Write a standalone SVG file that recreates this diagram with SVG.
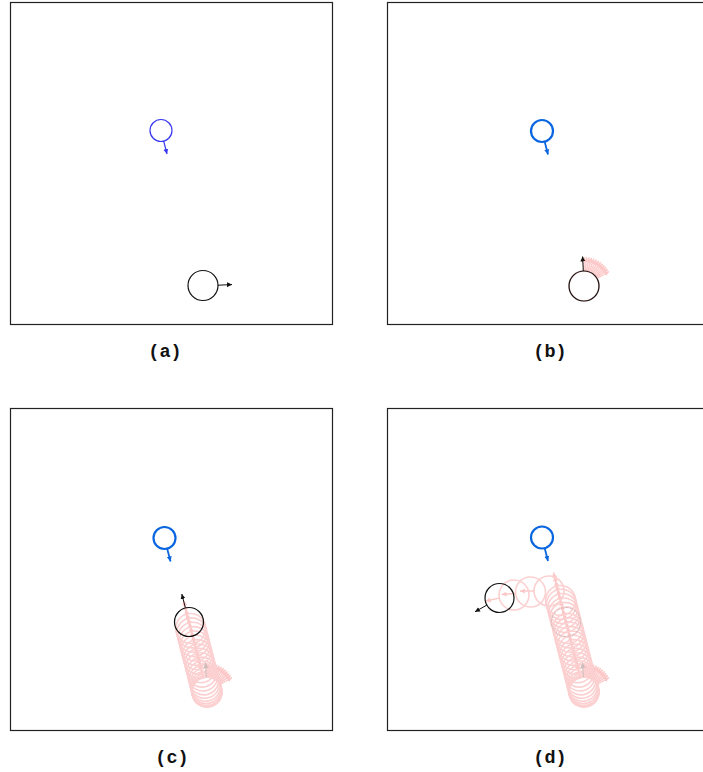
<svg xmlns="http://www.w3.org/2000/svg" xmlns:xlink="http://www.w3.org/1999/xlink" width="703" height="772" viewBox="0 0 703 772">
<style>
.frame{fill:none;stroke:#222;stroke-width:1.2}
.lbl{font-family:"Liberation Mono","Courier New",monospace;font-weight:bold;font-size:18.5px;fill:#111;text-anchor:middle}
.agent{fill:none;stroke:#111;stroke-width:1.2}
.aarr{stroke:#111;stroke-width:1;marker-end:url(#mk)}
.pc{fill:none;stroke:#fcd0d0;stroke-width:1.6}
.pa{stroke:#fcc8c8;stroke-width:1.4;marker-end:url(#mp)}
.ghost{fill:none;stroke:#cdbcbc;stroke-width:1;stroke-dasharray:3 1.5}
.garr{stroke:#cdbcbc;stroke-width:1;marker-end:url(#mg)}
.t1{fill:none;stroke:#3838f0;stroke-width:1.2}
.t1a{stroke:#3838f0;stroke-width:1.2;marker-end:url(#mb1)}
.t2{fill:none;stroke:#0a66e0;stroke-width:2.2}
.t2a{stroke:#0a66e0;stroke-width:1.8;marker-end:url(#mb2)}
</style>
<defs>
<marker id="mk" markerWidth="6" markerHeight="6" refX="5" refY="3" orient="auto" markerUnits="userSpaceOnUse"><path d="M0,0.5 L5,3 L0,5.5 Z" fill="#111"/></marker>
<marker id="mp" markerWidth="6" markerHeight="6" refX="5" refY="3" orient="auto" markerUnits="userSpaceOnUse"><path d="M0,0.5 L5,3 L0,5.5 Z" fill="#fcc8c8"/></marker>
<marker id="mg" markerWidth="6" markerHeight="6" refX="5" refY="3" orient="auto" markerUnits="userSpaceOnUse"><path d="M0,0.5 L5,3 L0,5.5 Z" fill="#cdbcbc"/></marker>
<marker id="mb1" markerWidth="6" markerHeight="6" refX="5" refY="3" orient="auto" markerUnits="userSpaceOnUse"><path d="M0,0.5 L5,3 L0,5.5 Z" fill="#3838f0"/></marker>
<marker id="mb2" markerWidth="6" markerHeight="6" refX="5" refY="3" orient="auto" markerUnits="userSpaceOnUse"><path d="M0,0.5 L5,3 L0,5.5 Z" fill="#0a66e0"/></marker>
<g id="parr"><line class="pa" x1="15" y1="0" x2="29" y2="0"/></g>
<g id="pstate"><circle class="pc" cx="0" cy="0" r="15"/><line class="pa" x1="15" y1="0" x2="29" y2="0"/></g>
<g id="fan">
<use xlink:href="#pstate" transform="rotate(-30)"/>
<use xlink:href="#parr" transform="rotate(-35)"/>
<use xlink:href="#parr" transform="rotate(-40)"/>
<use xlink:href="#parr" transform="rotate(-45)"/>
<use xlink:href="#parr" transform="rotate(-50)"/>
<use xlink:href="#parr" transform="rotate(-55)"/>
<use xlink:href="#parr" transform="rotate(-60)"/>
<use xlink:href="#parr" transform="rotate(-65)"/>
<use xlink:href="#parr" transform="rotate(-70)"/>
<use xlink:href="#parr" transform="rotate(-75)"/>
<use xlink:href="#parr" transform="rotate(-80)"/>
<use xlink:href="#parr" transform="rotate(-85)"/>
<use xlink:href="#parr" transform="rotate(-90)"/>
</g>
<g id="column">
<use xlink:href="#fan"/>
<use xlink:href="#pstate" transform="rotate(-104.4)"/>
<use xlink:href="#pstate" transform="translate(-0.37,-1.45) rotate(-104.4)"/>
<use xlink:href="#pstate" transform="translate(-0.87,-3.39) rotate(-104.4)"/>
<use xlink:href="#pstate" transform="translate(-1.49,-5.81) rotate(-104.4)"/>
<use xlink:href="#pstate" transform="translate(-2.24,-8.72) rotate(-104.4)"/>
<use xlink:href="#pstate" transform="translate(-3.11,-12.11) rotate(-104.4)"/>
<use xlink:href="#pstate" transform="translate(-4.11,-15.99) rotate(-104.4)"/>
<use xlink:href="#pstate" transform="translate(-5.10,-19.86) rotate(-104.4)"/>
<use xlink:href="#pstate" transform="translate(-6.23,-24.23) rotate(-104.4)"/>
<use xlink:href="#pstate" transform="translate(-7.35,-28.59) rotate(-104.4)"/>
<use xlink:href="#pstate" transform="translate(-8.47,-32.95) rotate(-104.4)"/>
<use xlink:href="#pstate" transform="translate(-9.59,-37.31) rotate(-104.4)"/>
<use xlink:href="#pstate" transform="translate(-10.71,-41.67) rotate(-104.4)"/>
<use xlink:href="#pstate" transform="translate(-11.83,-46.03) rotate(-104.4)"/>
<use xlink:href="#pstate" transform="translate(-12.95,-50.39) rotate(-104.4)"/>
<use xlink:href="#pstate" transform="translate(-14.07,-54.75) rotate(-104.4)"/>
<use xlink:href="#pstate" transform="translate(-15.19,-59.11) rotate(-104.4)"/>
<use xlink:href="#pstate" transform="translate(-16.31,-63.47) rotate(-104.4)"/>
</g>
</defs>
<rect width="703" height="772" fill="#fff"/>

<g id="panel-a">
<rect class="frame" x="10.5" y="2.5" width="322" height="322"/>
<g id="target-a"><circle class="t1" cx="161" cy="130.5" r="11"/><line class="t1a" x1="163.7" y1="141.2" x2="167" y2="154"/></g>
<g id="agent-a"><circle class="agent" cx="203" cy="285.5" r="15"/><line class="aarr" x1="218" y1="285.2" x2="232" y2="284.6"/></g>
<text class="lbl" x="165" y="357">(a)</text>
</g>

<g id="panel-b">
<rect class="frame" x="387.5" y="2.5" width="322" height="322"/>
<g id="target-b"><circle class="t2" cx="542" cy="131" r="11"/><line class="t2a" x1="544.7" y1="141.7" x2="548" y2="154.5"/></g>
<g id="trail-b"><use xlink:href="#fan" transform="translate(584,286)"/></g>
<g id="agent-b"><circle class="agent" cx="584" cy="286" r="15"/><line class="aarr" x1="583.3" y1="271" x2="582.6" y2="256.5"/></g>
<text class="lbl" x="550" y="357">(b)</text>
</g>

<g id="panel-c">
<rect class="frame" x="10.5" y="408.5" width="322" height="322"/>
<g id="target-c"><circle class="t2" cx="164.5" cy="538" r="11"/><line class="t2a" x1="167.2" y1="548.7" x2="170.5" y2="561.5"/></g>
<g id="trail-c"><use xlink:href="#column" transform="translate(207,692)"/>
<line class="garr" x1="206.3" y1="677" x2="205.6" y2="663"/></g>
<g id="agent-c"><circle class="agent" cx="189" cy="622" r="14.5"/><line class="aarr" x1="185.3" y1="607.5" x2="181.8" y2="594"/></g>
<text class="lbl" x="172" y="763">(c)</text>
</g>

<g id="panel-d">
<rect class="frame" x="387.5" y="408.5" width="322" height="322"/>
<g id="target-d"><circle class="t2" cx="542" cy="537.5" r="11"/><line class="t2a" x1="544.7" y1="548.2" x2="548" y2="561"/></g>
<g id="trail-d">
<use xlink:href="#column" transform="translate(584,692)"/>
<use xlink:href="#pstate" transform="translate(566,621.9) rotate(-104.4)"/>
<use xlink:href="#pstate" transform="translate(564.8,617.4) rotate(-104.4)"/>
<use xlink:href="#pstate" transform="translate(563.7,613) rotate(-104.4)"/>
<use xlink:href="#pstate" transform="translate(562.6,608.6) rotate(-104.4)"/>
<use xlink:href="#pstate" transform="translate(561.5,604.3) rotate(-104.4)"/>
<use xlink:href="#pstate" transform="translate(560.6,600.5) rotate(-104.4)"/>
<use xlink:href="#pstate" transform="translate(549,591) rotate(180)"/>
<use xlink:href="#pstate" transform="translate(530.5,592) rotate(175)"/>
<use xlink:href="#pstate" transform="translate(514,595) rotate(168)"/>
<line class="garr" x1="583.3" y1="677" x2="582.6" y2="663"/>
<circle class="ghost" cx="566" cy="622" r="14.5"/>
</g>
<g id="agent-d"><circle class="agent" cx="499.5" cy="598" r="14.5"/><line class="aarr" x1="486.8" y1="605.1" x2="475" y2="611.8"/></g>
<text class="lbl" x="550" y="763">(d)</text>
</g>
</svg>
